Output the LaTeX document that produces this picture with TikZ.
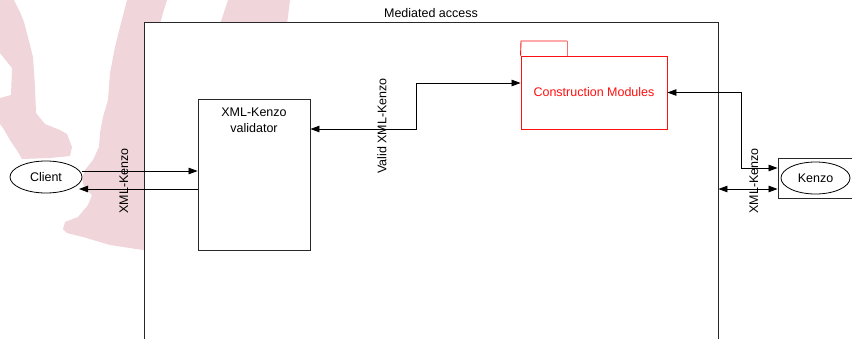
\documentclass[tikz,border=0pt]{standalone}
\usepackage{fontspec}
\setmainfont{Liberation Sans}
\usetikzlibrary{arrows.meta,shapes.geometric}
\definecolor{blush}{RGB}{240,213,218}
\definecolor{pkgred}{RGB}{255,16,16}
\definecolor{tabred}{RGB}{255,110,110}
\definecolor{edge}{RGB}{40,40,40}

\begin{document}
\begin{tikzpicture}[x=1pt,y=-1pt,
  font=\fontsize{12.5}{16}\selectfont,
  frame/.style={draw=edge, line width=0.9pt, fill=white, inner sep=0pt},
  actor/.style={ellipse, draw=black, line width=0.8pt, fill=white, inner sep=0pt},
  pkg/.style={draw=pkgred, line width=0.9pt, inner sep=0pt, text=pkgred},
  link/.style={draw=black, line width=0.8pt},
  twoway/.style={link, {Triangle[length=9pt,width=6.5pt]}-{Triangle[length=9pt,width=6.5pt]}},
  oneway/.style={link, -{Triangle[length=9pt,width=6.5pt]}},
  tag/.style={rotate=90, inner sep=0pt}]

  \clip (0,0) rectangle (852,338);

  % background wash
  \fill[blush] (0,0) -- (14,0) -- (20,12) -- (24,22) -- (30,45) -- (33,57)
    -- (35,87) -- (36,113) -- (45,124) -- (60,130) -- (67,134) -- (72,147)
    -- (70,156) -- (50,158) -- (22,159) -- (18,152) -- (10,140) -- (3,128)
    -- (0,124) -- (0,98) -- (11,95) -- (12,68) -- (4,58) -- (0,53) -- cycle;
  \fill[blush] (127,0) -- (167,0) -- (163,13) -- (160,24) -- (150,24)
    -- (150,252) -- (143,250) -- (110,245) -- (83,237) -- (67,233)
    -- (63,229) -- (65,222) -- (78,217) -- (88,205) -- (92,195) -- (84,187)
    -- (82,178) -- (85,170) -- (93,160) -- (99,147) -- (100,133) -- (103,117)
    -- (108,100) -- (110,73) -- (115,47) -- (120,27) -- cycle;
  \fill[blush] (228,0) -- (290,0) -- (287,24) -- (220,24) -- cycle;

  % enclosing boundary
  \node[frame, minimum width=574pt, minimum height=330pt,
        label={[inner sep=0pt, anchor=base]north:\raisebox{5pt}{Mediated access}}]
        (outer) at (431,187.7) {};

  % components
  \node[frame, minimum width=112pt, minimum height=151pt,
        label={[anchor=north, align=center, inner sep=2pt, yshift=-7pt]north:XML-Kenzo\\validator}]
        (valid) at (254,174.5) {};
  \node[pkg, minimum width=146pt, minimum height=73pt] (cm) at (594,92.5)
        {Construction Modules};
  \draw[pkgred, line width=0.9pt] (cm.north west) -- (521,41) -- (567,41);
  \draw[tabred, line width=0.9pt] (567,41) -- (567,56);

  \node[actor, minimum width=72pt, minimum height=32pt] (client) at (46,177) {Client};
  \node[frame, minimum width=92pt, minimum height=40pt] (kbox) at (824,178.5) {};
  \node[actor, minimum width=69pt, minimum height=32pt] (kenzo) at (815.5,178) {Kenzo};

  % connectors
  \coordinate (cret) at (79,189);
  \draw[oneway] (client.east |- 0,171) -- (valid.west |- 0,171);
  \draw[oneway] (valid.west |- 0,189) -- (cret);
  \draw[twoway] (valid.east |- 0,129) -- ++(106,0) |- (cm.west |- 0,83);
  \draw[twoway] (kbox.west |- 0,168) -- ++(-36,0) |- (cm.east);
  \draw[twoway] (outer.east |- 0,189) -- (kbox.west |- 0,189);

  % connector labels
  \node[tag] (lclient) at (124,181) {XML-Kenzo};
  \node[tag] (lvalid) at (382,126) {Valid XML-Kenzo};
  \node[tag] (lkenzo) at (754,181) {XML-Kenzo};
\end{tikzpicture}
\end{document}
